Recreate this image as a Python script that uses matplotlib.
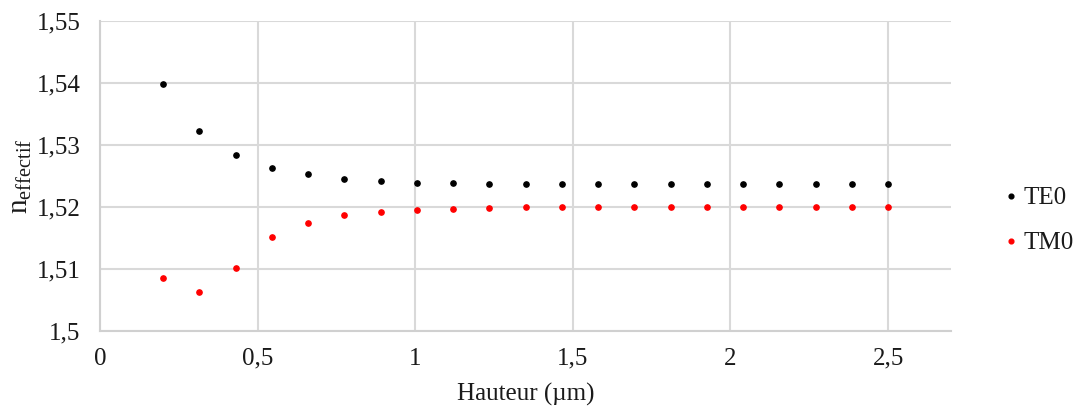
import numpy as np
import matplotlib
matplotlib.use("Agg")
import matplotlib.pyplot as plt
from matplotlib.ticker import FuncFormatter

hauteur = [0.2, 0.315, 0.43, 0.545, 0.66, 0.775, 0.89, 1.005, 1.12, 1.235, 1.35,
           1.465, 1.58, 1.695, 1.81, 1.925, 2.04, 2.155, 2.27, 2.385, 2.5]
te0 = [1.5398, 1.5322, 1.5284, 1.5263, 1.5252, 1.5245, 1.5241, 1.5239, 1.5238, 1.5237, 1.5237,
       1.5237, 1.5237, 1.5237, 1.5237, 1.5237, 1.5237, 1.5237, 1.5237, 1.5237, 1.5237]
tm0 = [1.5085, 1.5062, 1.5102, 1.5151, 1.5174, 1.5186, 1.5192, 1.5195, 1.5197, 1.5198, 1.5199,
       1.5199, 1.5200, 1.5200, 1.5200, 1.5200, 1.5200, 1.5200, 1.5200, 1.5200, 1.5200]
xticks = [0, 0.5, 1, 1.5, 2, 2.5]
yticks = [1.5, 1.51, 1.52, 1.53, 1.54, 1.55]

plt.rcParams['font.family'] = ['Liberation Serif', 'DejaVu Serif']
plt.rcParams['mathtext.fontset'] = 'custom'
plt.rcParams['mathtext.rm'] = 'Liberation Serif'

TXT = '#1a1a1a'

fig = plt.figure(figsize=(10.78, 4.12), dpi=100)
ax = fig.add_axes([0.0928, 0.197, 0.7895, 0.753])

ax.plot(hauteur, te0, 'o', color='black', markersize=3.8, linestyle='none', label='TE0', zorder=3)
ax.plot(hauteur, tm0, 'o', color='#ff0000', markersize=3.8, linestyle='none', label='TM0', zorder=3)

ax.set_xlim(0, 2.7)
ax.set_ylim(1.5, 1.55)
ax.set_xticks(xticks)
ax.set_yticks(yticks)

def fmt(v, pos):
    s = ('%.2f' % v).rstrip('0').rstrip('.')
    return s.replace('.', ',')

ax.xaxis.set_major_formatter(FuncFormatter(fmt))
ax.yaxis.set_major_formatter(FuncFormatter(fmt))
ax.grid(True, color='#d9d9d9', linewidth=1.5)
ax.set_axisbelow(True)
for s in ['top', 'right']:
    ax.spines[s].set_visible(False)
for s in ['left', 'bottom']:
    ax.spines[s].set_color('#d0d0d0')
    ax.spines[s].set_linewidth(1.5)
ax.tick_params(length=0, labelsize=18, labelcolor=TXT)
ax.tick_params(axis='y', pad=14)
ax.tick_params(axis='x', pad=12)

ax.set_xlabel('Hauteur (µm)', fontsize=18, color=TXT, labelpad=10)
ax.set_ylabel(r'$\mathregular{n_{effectif}}$', fontsize=21, color=TXT, labelpad=2)

leg = ax.legend(loc='center left', bbox_to_anchor=(1.036, 0.355), frameon=False,
                fontsize=18, handlelength=0.5, handletextpad=0.25, labelspacing=0.9,
                markerscale=0.9)
for t in leg.get_texts():
    t.set_color(TXT)

fig.savefig('out.png', dpi=100)
